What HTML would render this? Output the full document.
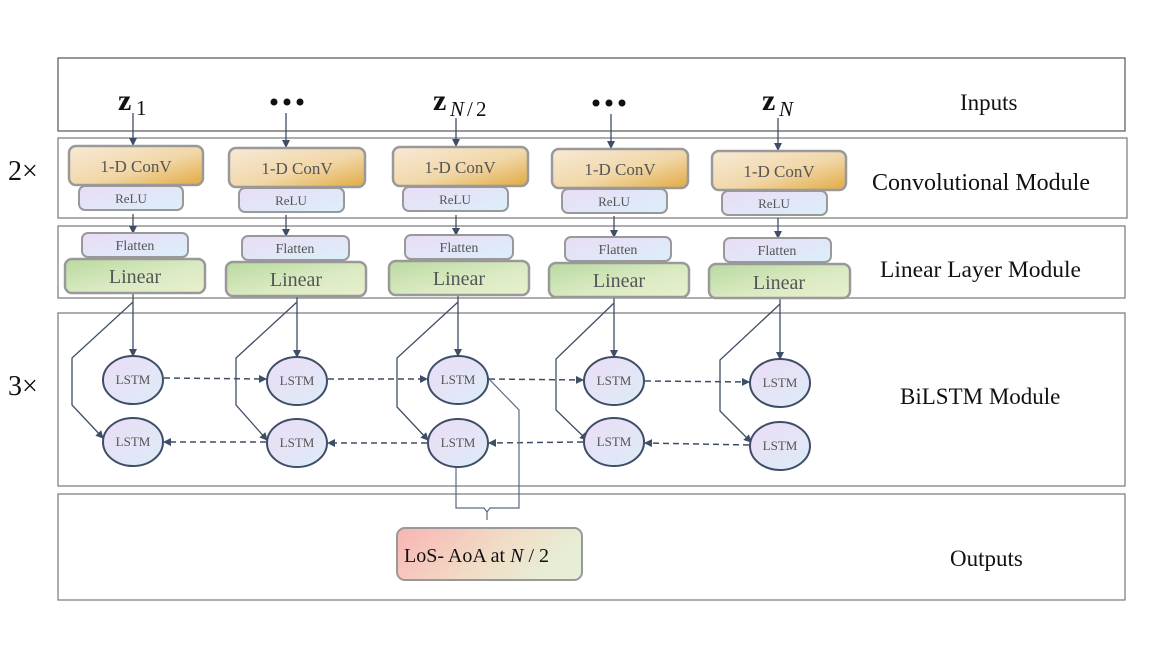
<!DOCTYPE html>
<html><head><meta charset="utf-8"><style>
body{margin:0;background:#fff}
svg{display:block}
text{font-family:"Liberation Serif",serif}
</style></head><body>
<svg width="1163" height="654" viewBox="0 0 1163 654" xmlns="http://www.w3.org/2000/svg">
<defs>
<linearGradient id="gc" x1="0" y1="0" x2="1" y2="1"><stop offset="0" stop-color="#f8ead8"/><stop offset="0.55" stop-color="#f1d7a8"/><stop offset="1" stop-color="#e2aa42"/></linearGradient>
<linearGradient id="gr" x1="0" y1="0" x2="1" y2="1"><stop offset="0" stop-color="#eadcf5"/><stop offset="1" stop-color="#dbeffa"/></linearGradient>
<linearGradient id="gl" x1="0" y1="0" x2="1" y2="1"><stop offset="0" stop-color="#b9d9a0"/><stop offset="0.6" stop-color="#dcebc4"/><stop offset="1" stop-color="#e8f0cc"/></linearGradient>
<linearGradient id="ge" x1="0" y1="0" x2="1" y2="1"><stop offset="0" stop-color="#ecdcf5"/><stop offset="1" stop-color="#dcecf8"/></linearGradient>
<linearGradient id="go" x1="0" y1="0" x2="1" y2="0.3"><stop offset="0" stop-color="#f9b4b4"/><stop offset="0.6" stop-color="#f1dcc6"/><stop offset="1" stop-color="#e6efd6"/></linearGradient>
<marker id="a" markerWidth="8" markerHeight="8" refX="7" refY="4" orient="auto" markerUnits="userSpaceOnUse"><path d="M0,0 L8,4 L0,8 z" fill="#3e4e66"/></marker>
</defs>
<g fill="none" stroke="#555" stroke-width="1.2">
<rect x="58" y="58" width="1067" height="73"/>
<rect x="58" y="138" width="1069" height="80" stroke="#777"/>
<rect x="58" y="226" width="1067" height="72" stroke="#777"/>
<rect x="58" y="313" width="1067" height="173" stroke="#777"/>
<rect x="58" y="494" width="1067" height="106" stroke="#777"/>
</g>
<g font-size="23" fill="#111">
<text x="960" y="110">Inputs</text>
<text x="872" y="190" font-size="24">Convolutional Module</text>
<text x="880" y="277" font-size="23.5">Linear Layer Module</text>
<text x="900" y="404">BiLSTM Module</text>
<text x="950" y="566">Outputs</text>
<text x="8" y="180" font-size="28">2×</text>
<text x="8" y="395" font-size="28">3×</text>
</g>
<g fill="#111" font-weight="bold" font-size="30">
<text x="118" y="110">z</text><text x="433" y="110">z</text><text x="762" y="110">z</text>
</g>
<g fill="#111" font-size="21">
<text x="136" y="115">1</text><text x="450" y="116" font-style="italic">N</text><text x="467" y="116">/</text><text x="476" y="116">2</text><text x="779" y="116" font-style="italic">N</text>
</g>
<g fill="#111"><circle cx="274" cy="102" r="3.5"/><circle cx="287" cy="102" r="3.5"/><circle cx="300" cy="102" r="3.5"/>
<circle cx="596" cy="103" r="3.5"/><circle cx="609" cy="103" r="3.5"/><circle cx="622" cy="103" r="3.5"/></g>
<g stroke="#3e4e66" stroke-width="1.3" fill="none" marker-end="url(#a)">
<line x1="133" y1="113" x2="133" y2="145"/><line x1="286" y1="113" x2="286" y2="147"/><line x1="456" y1="118" x2="456" y2="146"/><line x1="611" y1="114" x2="611" y2="148"/><line x1="778" y1="118" x2="778" y2="150"/>
<line x1="133" y1="214" x2="133" y2="233"/><line x1="286" y1="215" x2="286" y2="236"/><line x1="456" y1="215" x2="456" y2="235"/><line x1="614" y1="216" x2="614" y2="237"/><line x1="778" y1="218" x2="778" y2="238"/>
<line x1="133" y1="293" x2="133" y2="356"/><line x1="297" y1="296" x2="297" y2="357"/><line x1="458" y1="295" x2="458" y2="356"/><line x1="614" y1="297" x2="614" y2="357"/><line x1="780" y1="298" x2="780" y2="359"/>
<polyline points="133,302 72,358 72,405 103,438"/>
<polyline points="297,302 236,358 236,405 267,440"/>
<polyline points="458,302 397,358 397,407 428,440"/>
<polyline points="614,303 556,359 556,410 587,440"/>
<polyline points="780,304 720,360 720,411 751,442"/>
</g>
<g stroke="#3e4e66" stroke-width="1.5" fill="none" stroke-dasharray="6,4" marker-end="url(#a)">
<line x1="164" y1="378" x2="266" y2="379"/><line x1="328" y1="379" x2="427" y2="379"/><line x1="489" y1="379" x2="583" y2="380"/><line x1="645" y1="381" x2="749" y2="382"/>
<line x1="266" y1="442" x2="164" y2="442"/><line x1="427" y1="443" x2="328" y2="443"/><line x1="583" y1="442" x2="489" y2="443"/><line x1="749" y1="445" x2="645" y2="443"/>
</g>
<g stroke="#5a6a80" stroke-width="1.2" fill="none">
<polyline points="488,378 519,410 519,508 490,508 487,512 487,520"/>
<polyline points="456,467 456,508 484,508 487,512"/>
</g>
<g stroke="#3e4e66" stroke-width="2" fill="url(#ge)">
<ellipse cx="133" cy="380" rx="30" ry="24"/><ellipse cx="133" cy="442" rx="30" ry="24"/>
<ellipse cx="297" cy="381" rx="30" ry="24"/><ellipse cx="297" cy="443" rx="30" ry="24"/>
<ellipse cx="458" cy="380" rx="30" ry="24"/><ellipse cx="458" cy="443" rx="30" ry="24"/>
<ellipse cx="614" cy="381" rx="30" ry="24"/><ellipse cx="614" cy="442" rx="30" ry="24"/>
<ellipse cx="780" cy="383" rx="30" ry="24"/><ellipse cx="780" cy="446" rx="30" ry="24"/>
</g>
<g font-size="13" fill="#555" text-anchor="middle">
<text x="133" y="384">LSTM</text><text x="133" y="446">LSTM</text>
<text x="297" y="385">LSTM</text><text x="297" y="447">LSTM</text>
<text x="458" y="384">LSTM</text><text x="458" y="447">LSTM</text>
<text x="614" y="385">LSTM</text><text x="614" y="446">LSTM</text>
<text x="780" y="387">LSTM</text><text x="780" y="450">LSTM</text>
</g>
<g stroke="#999" stroke-width="2.5">
<rect x="69" y="146" width="134" height="39" rx="7" fill="url(#gc)"/>
<rect x="229" y="148" width="136" height="39" rx="7" fill="url(#gc)"/>
<rect x="393" y="147" width="135" height="39" rx="7" fill="url(#gc)"/>
<rect x="552" y="149" width="136" height="39" rx="7" fill="url(#gc)"/>
<rect x="712" y="151" width="134" height="39" rx="7" fill="url(#gc)"/>
</g>
<g stroke="#999" stroke-width="2">
<rect x="79" y="186" width="104" height="24" rx="6" fill="url(#gr)"/>
<rect x="239" y="188" width="105" height="24" rx="6" fill="url(#gr)"/>
<rect x="403" y="187" width="105" height="24" rx="6" fill="url(#gr)"/>
<rect x="562" y="189" width="105" height="24" rx="6" fill="url(#gr)"/>
<rect x="722" y="191" width="105" height="24" rx="6" fill="url(#gr)"/>
<rect x="82" y="233" width="106" height="24" rx="6" fill="url(#gr)"/>
<rect x="242" y="236" width="107" height="24" rx="6" fill="url(#gr)"/>
<rect x="405" y="235" width="108" height="24" rx="6" fill="url(#gr)"/>
<rect x="565" y="237" width="106" height="24" rx="6" fill="url(#gr)"/>
<rect x="724" y="238" width="107" height="24" rx="6" fill="url(#gr)"/>
</g>
<g stroke="#999" stroke-width="2.5">
<rect x="65" y="259" width="140" height="34" rx="7" fill="url(#gl)"/>
<rect x="226" y="262" width="140" height="34" rx="7" fill="url(#gl)"/>
<rect x="389" y="261" width="140" height="34" rx="7" fill="url(#gl)"/>
<rect x="549" y="263" width="140" height="34" rx="7" fill="url(#gl)"/>
<rect x="709" y="264" width="141" height="34" rx="7" fill="url(#gl)"/>
</g>
<g fill="#555" text-anchor="middle">
<g font-size="17"><text x="136" y="172">1-D ConV</text><text x="297" y="174">1-D ConV</text><text x="460" y="173">1-D ConV</text><text x="620" y="175">1-D ConV</text><text x="779" y="177">1-D ConV</text></g>
<g font-size="13"><text x="131" y="203">ReLU</text><text x="291" y="205">ReLU</text><text x="455" y="204">ReLU</text><text x="614" y="206">ReLU</text><text x="774" y="208">ReLU</text></g>
<g font-size="14"><text x="135" y="250">Flatten</text><text x="295" y="253">Flatten</text><text x="459" y="252">Flatten</text><text x="618" y="254">Flatten</text><text x="777" y="255">Flatten</text></g>
<g font-size="20"><text x="135" y="283">Linear</text><text x="296" y="286">Linear</text><text x="459" y="285">Linear</text><text x="619" y="287">Linear</text><text x="779" y="289">Linear</text></g>
</g>
<rect x="397" y="528" width="185" height="52" rx="8" fill="url(#go)" stroke="#999" stroke-width="2"/>
<text x="404" y="562" font-size="20" fill="#111">LoS- AoA at <tspan font-style="italic">N</tspan> / 2</text>
</svg>
</body></html>
